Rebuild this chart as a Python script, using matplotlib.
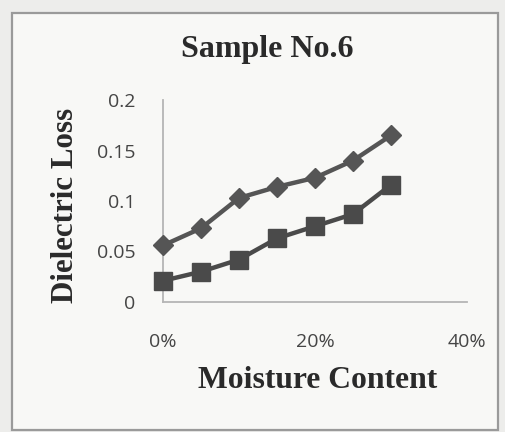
import matplotlib
matplotlib.use("Agg")
import matplotlib.pyplot as plt
from matplotlib.patches import Rectangle
from matplotlib.ticker import FuncFormatter

moisture = [0.00, 0.05, 0.10, 0.15, 0.20, 0.25, 0.30]
series_diamond = [0.056, 0.073, 0.103, 0.114, 0.123, 0.140, 0.165]
series_square = [0.021, 0.030, 0.042, 0.063, 0.075, 0.087, 0.116]
x_ticks = [0.0, 0.2, 0.4]
y_ticks = [0, 0.05, 0.1, 0.15, 0.2]
y_tick_labels = ["0", "0.05", "0.1", "0.15", "0.2"]

W, H = 506, 432
fig = plt.figure(figsize=(W / 100, H / 100), dpi=100)
fig.patch.set_facecolor("#ededeb")

# chart-area frame
frame = Rectangle((12 / W, 2 / H), (W - 8 - 12) / W, (H - 13 - 2) / H,
                  transform=fig.transFigure, facecolor="#f8f8f6",
                  edgecolor="#9a9a9a", linewidth=1.6, zorder=-5)
fig.patches.append(frame)

ax = fig.add_axes([163 / W, 1 - 302 / H, (467 - 163) / W, (302 - 100) / H])
ax.set_zorder(2)
ax.set_facecolor("none")

ax.plot(moisture, series_diamond, color="#555555", linewidth=3.2,
        marker="D", markersize=10, markerfacecolor="#555555",
        markeredgecolor="#555555", clip_on=False, zorder=3)
ax.plot(moisture, series_square, color="#4a4a4a", linewidth=3.2,
        marker="s", markersize=13, markerfacecolor="#4a4a4a",
        markeredgecolor="#4a4a4a", clip_on=False, zorder=3)

ax.set_xlim(0, 0.4)
ax.set_ylim(0, 0.2)
ax.set_xticks(x_ticks)
ax.xaxis.set_major_formatter(FuncFormatter(lambda v, p: f"{v*100:.0f}%"))
ax.set_yticks(y_ticks)
ax.set_yticklabels(y_tick_labels)

for s in ["top", "right"]:
    ax.spines[s].set_visible(False)
for s in ["left", "bottom"]:
    ax.spines[s].set_color("#b5b5b5")
    ax.spines[s].set_linewidth(1.3)

ax.tick_params(axis="both", length=0, labelsize=14, labelcolor="#454545")
ax.tick_params(axis="x", pad=22)
ax.tick_params(axis="y", pad=20)
for lab in ax.get_xticklabels() + ax.get_yticklabels():
    lab.set_fontfamily("Open Sans")

serif = "Liberation Serif"
fig.text(267 / W, 1 - 50 / H, "Sample No.6", ha="center", va="center",
         fontsize=23, fontweight="bold", fontfamily=serif, color="#2a2a2a")
fig.text(66 / W, 1 - 205 / H, "Dielectric Loss", ha="center", va="center",
         rotation=90, fontsize=22.3, fontweight="bold", fontfamily=serif,
         color="#2a2a2a")
fig.text(318 / W, 1 - 381 / H, "Moisture Content", ha="center", va="center",
         fontsize=22.8, fontweight="bold", fontfamily=serif, color="#2a2a2a")

fig.savefig("out.png", dpi=100, facecolor=fig.get_facecolor())
